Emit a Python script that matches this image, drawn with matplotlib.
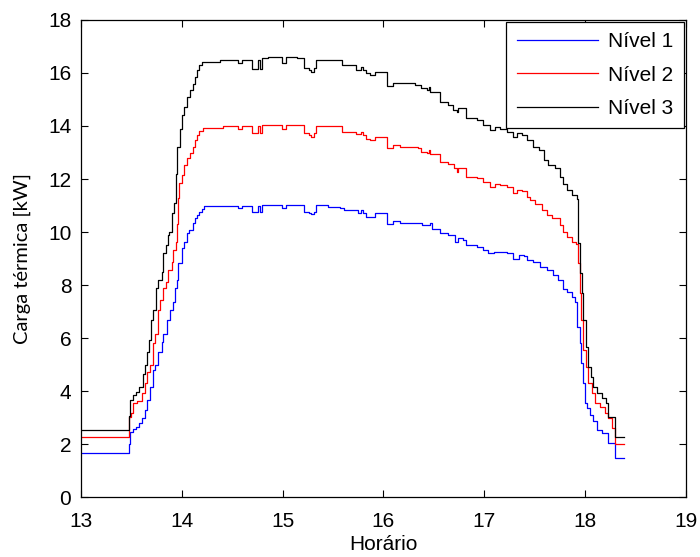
import matplotlib
matplotlib.use("Agg")
import matplotlib.pyplot as plt
import numpy as np

plt.rcParams['font.family'] = ['Liberation Sans', 'DejaVu Sans']

# Nivel 3 (black)
t3 = [13.000, 13.473, 13.486, 13.519, 13.546, 13.578, 13.612, 13.635, 13.652, 13.678,
      13.691, 13.711, 13.744, 13.767, 13.801, 13.816, 13.843, 13.866, 13.876, 13.900,
      13.926, 13.942, 13.955, 13.982, 13.999, 14.025, 14.049, 14.081, 14.108, 14.131,
      14.154, 14.174, 14.197, 14.220, 14.379, 14.561, 14.594, 14.694, 14.759, 14.776,
      14.793, 14.858, 14.991, 15.034, 15.146, 15.212, 15.262, 15.279, 15.312, 15.331,
      15.586, 15.728, 15.775, 15.801, 15.827, 15.867, 15.917, 16.033, 16.098, 16.313,
      16.370, 16.430, 16.452, 16.462, 16.562, 16.644, 16.694, 16.727, 16.743, 16.819,
      16.926, 16.991, 17.058, 17.107, 17.157, 17.223, 17.283, 17.323, 17.372, 17.422,
      17.487, 17.547, 17.587, 17.636, 17.702, 17.752, 17.785, 17.824, 17.868, 17.918,
      17.924, 17.944, 17.967, 17.983, 18.010, 18.033, 18.057, 18.082, 18.116, 18.166,
      18.208, 18.231, 18.298, 18.387]
v3 = [2.53, 3.05, 3.66, 3.85, 3.97, 4.16, 4.64, 4.98, 5.48, 5.92,
      6.68, 7.06, 7.88, 8.19, 8.50, 9.20, 9.51, 9.89, 10.0, 10.7,
      11.1, 12.2, 13.2, 13.9, 14.4, 14.7, 15.1, 15.36, 15.6, 15.86,
      16.1, 16.3, 16.4, 16.42, 16.49, 16.36, 16.49, 16.15, 16.49, 16.15,
      16.55, 16.6, 16.36, 16.6, 16.55, 16.17, 16.1, 16.02, 16.17, 16.49,
      16.30, 16.11, 16.24, 16.11, 15.99, 15.92, 16.05, 15.51, 15.63, 15.55,
      15.42, 15.36, 15.48, 15.29, 14.92, 14.79, 14.60, 14.54, 14.67, 14.29,
      14.23, 14.04, 13.85, 13.95, 13.87, 13.78, 13.60, 13.72, 13.66, 13.47,
      13.22, 13.09, 12.71, 12.52, 12.40, 12.08, 11.83, 11.57, 11.38, 11.26,
      9.57, 8.44, 7.69, 6.68, 5.67, 4.92, 4.54, 4.16, 3.91, 3.72,
      3.54, 3.03, 2.25, 2.25]

# Nivel 2 (red)
t2 = [13.000, 13.473, 13.493, 13.519, 13.559, 13.602, 13.635, 13.652, 13.685, 13.711,
      13.734, 13.761, 13.784, 13.816, 13.843, 13.866, 13.900, 13.916, 13.939, 13.949,
      13.962, 13.975, 13.999, 14.025, 14.049, 14.081, 14.108, 14.131, 14.154, 14.174,
      14.213, 14.412, 14.561, 14.594, 14.694, 14.759, 14.776, 14.793, 14.991, 15.034,
      15.212, 15.262, 15.279, 15.312, 15.331, 15.586, 15.728, 15.775, 15.801, 15.827,
      15.867, 15.917, 16.033, 16.098, 16.165, 16.346, 16.370, 16.430, 16.452, 16.462,
      16.562, 16.644, 16.701, 16.727, 16.743, 16.819, 16.926, 16.991, 17.058, 17.107,
      17.157, 17.223, 17.283, 17.323, 17.372, 17.422, 17.454, 17.504, 17.570, 17.620,
      17.670, 17.752, 17.785, 17.824, 17.868, 17.911, 17.928, 17.944, 17.961, 17.983,
      18.010, 18.033, 18.066, 18.099, 18.149, 18.198, 18.231, 18.268, 18.298, 18.387]
v2 = [2.26, 3.03, 3.18, 3.53, 3.63, 3.91, 4.29, 4.73, 4.98, 5.80,
      6.17, 7.06, 7.43, 7.88, 8.13, 8.57, 8.88, 9.32, 9.63, 10.3,
      11.3, 11.85, 12.15, 12.53, 12.8, 12.98, 13.2, 13.47, 13.66, 13.82,
      13.91, 14.0, 13.87, 14.0, 13.75, 14.0, 13.75, 14.02, 13.87, 14.02,
      13.72, 13.65, 13.60, 13.72, 14.0, 13.78, 13.70, 13.78, 13.65, 13.50,
      13.47, 13.60, 13.16, 13.28, 13.22, 13.16, 13.03, 12.97, 13.10, 12.93,
      12.65, 12.58, 12.40, 12.28, 12.40, 12.09, 12.03, 11.90, 11.71, 11.83,
      11.77, 11.70, 11.46, 11.60, 11.53, 11.32, 11.20, 11.07, 10.82, 10.64,
      10.51, 10.26, 10.0, 9.81, 9.62, 9.56, 8.82, 7.69, 6.68, 5.55,
      4.92, 4.29, 3.91, 3.54, 3.41, 3.16, 2.97, 2.59, 2.0, 2.0]

# Nivel 1 (blue)
t1 = [13.000, 13.473, 13.486, 13.513, 13.546, 13.578, 13.602, 13.635, 13.652, 13.685,
      13.711, 13.734, 13.767, 13.801, 13.816, 13.856, 13.883, 13.910, 13.933, 13.949,
      13.965, 13.999, 14.025, 14.049, 14.074, 14.108, 14.131, 14.154, 14.174, 14.197,
      14.220, 14.260, 14.561, 14.594, 14.694, 14.759, 14.776, 14.793, 14.991, 15.034,
      15.212, 15.262, 15.279, 15.312, 15.331, 15.453, 15.569, 15.609, 15.751, 15.775,
      15.801, 15.827, 15.867, 15.917, 16.039, 16.098, 16.165, 16.380, 16.462, 16.479,
      16.562, 16.644, 16.710, 16.743, 16.793, 16.819, 16.926, 16.991, 17.041, 17.091,
      17.223, 17.289, 17.339, 17.389, 17.422, 17.487, 17.554, 17.620, 17.685, 17.735,
      17.785, 17.824, 17.868, 17.901, 17.918, 17.944, 17.961, 17.977, 18.000, 18.023,
      18.050, 18.082, 18.116, 18.166, 18.231, 18.298, 18.387]
v1 = [1.67, 2.0, 2.46, 2.55, 2.65, 2.80, 2.97, 3.28, 3.66, 4.16,
      4.79, 4.98, 5.48, 5.86, 6.17, 6.68, 7.06, 7.37, 7.88, 8.19,
      8.82, 9.38, 9.63, 9.95, 10.07, 10.33, 10.52, 10.64, 10.77, 10.85,
      10.98, 11.0, 10.89, 11.0, 10.74, 11.0, 10.74, 11.02, 10.89, 11.02,
      10.77, 10.70, 10.67, 10.77, 11.02, 10.96, 10.89, 10.84, 10.73, 10.84,
      10.72, 10.58, 10.55, 10.73, 10.30, 10.42, 10.35, 10.26, 10.35, 10.13,
      9.95, 9.89, 9.63, 9.76, 9.70, 9.51, 9.42, 9.32, 9.20, 9.26,
      9.20, 9.00, 9.14, 9.10, 8.96, 8.87, 8.68, 8.56, 8.37, 8.18,
      7.86, 7.73, 7.54, 7.35, 6.43, 5.80, 5.04, 4.29, 3.54, 3.35,
      3.10, 2.85, 2.53, 2.41, 2.03, 1.46, 1.46]

labels = ['Nível 1', 'Nível 2', 'Nível 3']
x_ticks = [13, 14, 15, 16, 17, 18, 19]
y_ticks = [0, 2, 4, 6, 8, 10, 12, 14, 16, 18]

fig = plt.figure(figsize=(7.0, 5.57), dpi=100)
ax = fig.add_axes([0.1157, 0.1077, 0.8643, 0.8564])

ax.plot(t1, v1, drawstyle='steps-post', color='#0000ff', lw=0.9, label=labels[0])
ax.plot(t2, v2, drawstyle='steps-post', color='#ff0000', lw=0.9, label=labels[1])
ax.plot(t3, v3, drawstyle='steps-post', color='#000000', lw=0.9, label=labels[2])

ax.set_xlim(13, 19)
ax.set_ylim(0, 18)
ax.set_xticks(x_ticks)
ax.set_yticks(y_ticks)
ax.tick_params(direction='in', top=True, right=True, length=5, width=0.8,
               labelsize=15)
ax.tick_params(axis='x', pad=11)
ax.tick_params(axis='y', pad=7)
for s in ax.spines.values():
    s.set_linewidth(0.9)

ax.set_xlabel('Horário', fontsize=15)
ax.xaxis.set_label_coords(0.5, -0.08)
ax.set_ylabel('Carga térmica [kW]', fontsize=14.5, family=['Lato', 'DejaVu Sans'])
ax.yaxis.set_label_coords(-0.083, 0.5)

leg = ax.legend(loc='upper right', fontsize=15, fancybox=False, framealpha=1,
                edgecolor='black', borderaxespad=0.1, handlelength=3.9,
                handletextpad=0.5, labelspacing=0.68, borderpad=0.5)
leg.get_frame().set_linewidth(0.9)

fig.savefig('out.png', dpi=100)
